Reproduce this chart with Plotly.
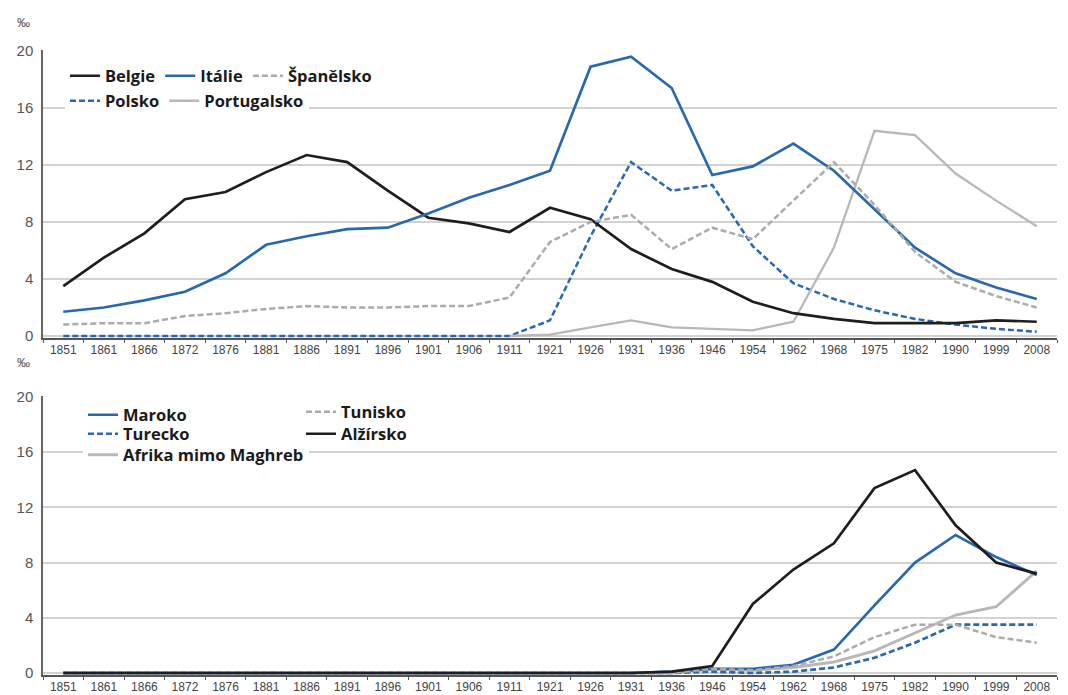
import plotly.graph_objects as go

years = ['1851', '1861', '1866', '1872', '1876', '1881', '1886', '1891', '1896', '1901',
         '1906', '1911', '1921', '1926', '1931', '1936', '1946', '1954', '1962', '1968',
         '1975', '1982', '1990', '1999', '2008']

# horni graf - evropske zeme (promile)
belgie = [3.5, 5.5, 7.2, 9.6, 10.1, 11.5, 12.7, 12.2, 10.2, 8.3, 7.9, 7.3, 9.0,
          8.2, 6.1, 4.7, 3.8, 2.4, 1.6, 1.2, 0.9, 0.9, 0.9, 1.1, 1.0]
italie = [1.7, 2.0, 2.5, 3.1, 4.4, 6.4, 7.0, 7.5, 7.6, 8.6, 9.7, 10.6, 11.6,
          18.9, 19.6, 17.4, 11.3, 11.9, 13.5, 11.6, 8.9, 6.2, 4.4, 3.4, 2.6]
spanelsko = [0.8, 0.9, 0.9, 1.4, 1.6, 1.9, 2.1, 2.0, 2.0, 2.1, 2.1, 2.7, 6.6,
             8.0, 8.5, 6.1, 7.6, 6.8, 9.5, 12.2, 9.2, 5.9, 3.8, 2.8, 2.0]
polsko = [0, 0, 0, 0, 0, 0, 0, 0, 0, 0, 0, 0, 1.1,
          7.0, 12.2, 10.2, 10.6, 6.3, 3.7, 2.6, 1.8, 1.2, 0.8, 0.5, 0.3]
portugalsko = [None, None, None, None, None, None, None, None, None, None, None, 0.0, 0.1,
               0.6, 1.1, 0.6, 0.5, 0.4, 1.0, 6.2, 14.4, 14.1, 11.4, 9.5, 7.7]

# dolni graf - Afrika a Turecko
maroko = [0, 0, 0, 0, 0, 0, 0, 0, 0, 0, 0, 0, 0,
          0, 0, 0.1, 0.3, 0.3, 0.6, 1.7, 4.9, 8.0, 10.0, 8.4, 7.1]
turecko = [0, 0, 0, 0, 0, 0, 0, 0, 0, 0, 0, 0, 0,
           0, 0, 0, 0.1, 0.0, 0.1, 0.4, 1.1, 2.2, 3.5, 3.5, 3.5]
afrika = [0, 0, 0, 0, 0, 0, 0, 0, 0, 0, 0, 0, 0,
          0, 0, 0, 0.3, 0.2, 0.4, 0.8, 1.6, 2.9, 4.2, 4.8, 7.4]
tunisko = [0, 0, 0, 0, 0, 0, 0, 0, 0, 0, 0, 0, 0,
           0, 0, 0, 0.3, 0.2, 0.5, 1.2, 2.6, 3.5, 3.5, 2.6, 2.2]
alzirsko = [0, 0, 0, 0, 0, 0, 0, 0, 0, 0, 0, 0, 0,
            0, 0, 0.1, 0.5, 5.0, 7.5, 9.4, 13.4, 14.7, 10.7, 8.0, 7.2]

y_ticks = [0, 4, 8, 12, 16, 20]

BLACK = '#1e1e1e'
BLUE = '#2a68ad'
GREY_D = '#ababab'
GREY_S = '#b8b8b8'
DASH = '6px,3px'

W, H = 1068, 695
L, R = 43, 11
fig = go.Figure()

# (jmeno, data, barva, dash, sirka, legenda)
# legendy s bilym pozadim (prekryvaji mrizku 16) patri prvnim stopam,
# aby se kreslily driv a neprekryvaly text radku nad nimi
top = [('Polsko', polsko, BLUE, DASH, 2.5, 'legend'),
       ('Portugalsko', portugalsko, GREY_S, 'solid', 2.3, 'legend'),
       ('Belgie', belgie, BLACK, 'solid', 2.7, 'legend2'),
       ('Itálie', italie, BLUE, 'solid', 2.7, 'legend2'),
       ('Španělsko', spanelsko, GREY_D, DASH, 2.5, 'legend2')]
bottom = [('Afrika mimo Maghreb', afrika, GREY_S, 'solid', 2.9, 'legend3'),
          ('Maroko', maroko, BLUE, 'solid', 2.7, 'legend4'),
          ('Turecko', turecko, BLUE, DASH, 2.7, 'legend5'),
          ('Tunisko', tunisko, GREY_D, DASH, 2.5, 'legend6'),
          ('Alžírsko', alzirsko, BLACK, 'solid', 2.7, 'legend7')]

for (name, y, col, dash, w, leg) in top:
    fig.add_trace(go.Scatter(x=years, y=y, mode='lines', name=name, legend=leg,
                             line=dict(color=col, dash=dash, width=w),
                             xaxis='x', yaxis='y'))
for (name, y, col, dash, w, leg) in bottom:
    fig.add_trace(go.Scatter(x=years, y=y, mode='lines', name=name, legend=leg,
                             line=dict(color=col, dash=dash, width=w),
                             xaxis='x2', yaxis='y2'))


def dom(px_top, px_bottom):
    # pixel -> paper (bez horniho/dolniho okraje)
    return [1 - px_bottom / H, 1 - px_top / H]


ymin, ymax = -0.15, 20.05
# 0 -> 336 px, 20 -> 51 px (horni); 0 -> 673 px, 20 -> 397 px (dolni)
s1 = (336 - 51) / 20
s2 = (673 - 397) / 20

xax = dict(type='category', range=[-0.5, 24.5], tickson='boundaries', ticks='outside',
           ticklen=3, tickcolor='#555', showline=True, linecolor='#555', linewidth=1.5,
           showgrid=False, automargin=False,
           tickfont=dict(family='Liberation Sans, Arial', size=12, color='#444'))
yax = dict(range=[ymin, ymax], tickvals=y_ticks, showline=True, linecolor='#666',
           linewidth=1.5, showgrid=True, gridcolor='#d2d2d2', gridwidth=1.5,
           zeroline=False, ticks='', ticklabelstandoff=5, automargin=False,
           tickfont=dict(family='Liberation Sans, Arial', size=15, color='#555'))

leg_font = dict(family='Open Sans', size=16.5, color='#1a1a1a', weight='bold')
leg_common = dict(bgcolor='rgba(255,255,255,0)', borderwidth=0, font=leg_font, itemwidth=30,
                  xanchor='left', yanchor='middle', traceorder='normal', orientation='h')


def leg(xpx, ypx, white=False):
    d = dict(leg_common, x=(xpx - L) / (W - L - R), y=1 - ypx / H)
    if white:
        d['bgcolor'] = 'white'
    return d


fig.update_layout(
    width=W, height=H,
    margin=dict(l=L, r=R, t=0, b=0),
    paper_bgcolor='white', plot_bgcolor='white',
    xaxis=dict(xax, anchor='y', domain=[0, 1]),
    yaxis=dict(yax, anchor='x', domain=dom(51 - 0.05 * s1, 336 + 0.15 * s1)),
    xaxis2=dict(xax, anchor='y2', domain=[0, 1]),
    yaxis2=dict(yax, anchor='x2', domain=dom(397 - 0.05 * s2, 673 + 0.15 * s2)),
    legend=leg(65, 101, white=True),
    legend2=leg(65, 76),
    legend3=leg(83, 455, white=True),
    legend4=leg(83, 415),
    legend5=leg(83, 434),
    legend6=leg(301, 412),
    legend7=leg(301, 434),
    showlegend=True,
)

# jednotka nad osou y
for ypx in (23, 362):
    fig.add_annotation(x=(23 - L) / (W - L - R), y=1 - ypx / H, xref='paper', yref='paper',
                       text='‰', showarrow=False, xanchor='center', yanchor='middle',
                       font=dict(family='Liberation Sans, Arial', size=13, color='#555'))

fig.write_html("out.html", config={'displayModeBar': False},
               post_script="document.body.style.margin='0';")
